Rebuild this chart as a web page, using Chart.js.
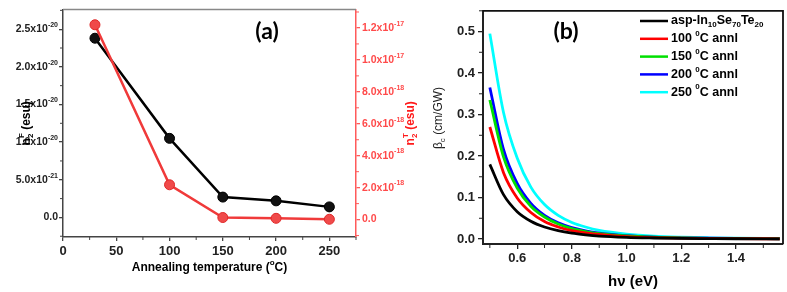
<!DOCTYPE html>
<html>
<head>
<meta charset="utf-8">
<script src="https://cdn.jsdelivr.net/npm/chart.js@4.4.1/dist/chart.umd.min.js"></script>
<style>
  html, body { margin: 0; padding: 0; background: #fff; }
  body { width: 787px; height: 292px; position: relative; overflow: hidden; }
  #wrap-a { position: absolute; left: 0; top: 0; }
  #wrap-b { position: absolute; left: 425px; top: 0; }
</style>
</head>
<body>
<div id="wrap-a"><canvas id="chart-a" width="425" height="292"></canvas></div>
<div id="wrap-b"><canvas id="chart-b" width="362" height="292"></canvas></div>
<script>
// panel (a) – n2 vs annealing temperature
const annealTemps = [30, 100, 150, 200, 250];
const n2F = [2.38e-20, 1.05e-20, 2.7e-21, 2.2e-21, 1.4e-21];
const n2T = [1.22e-17, 2.18e-18, 1.3e-19, 8e-20, 2e-20];

// panel (b) – beta_c vs photon energy
const photonEV  = [0.5, 0.55, 0.6, 0.65, 0.7, 0.75, 0.8, 0.85, 0.9, 1.0, 1.1, 1.2, 1.3, 1.4, 1.56];
const betaAsp   = [0.18, 0.107, 0.066, 0.043, 0.029, 0.020, 0.014, 0.010, 0.007, 0.004, 0.0025, 0.0015, 0.001, 0.0006, 0.0004];
const beta100   = [0.27, 0.16, 0.099, 0.064, 0.042, 0.029, 0.020, 0.015, 0.011, 0.006, 0.0035, 0.0022, 0.0014, 0.0009, 0.0005];
const beta150   = [0.335, 0.198, 0.123, 0.079, 0.053, 0.036, 0.025, 0.018, 0.013, 0.0074, 0.0044, 0.0027, 0.0017, 0.0012, 0.0007];
const beta200   = [0.365, 0.216, 0.134, 0.086, 0.057, 0.039, 0.0275, 0.0197, 0.0144, 0.0081, 0.0048, 0.003, 0.0019, 0.0013, 0.0007];
const beta250   = [0.495, 0.305, 0.195, 0.125, 0.083, 0.057, 0.040, 0.029, 0.021, 0.012, 0.007, 0.0045, 0.003, 0.002, 0.0012];
const sampleLabels = ["asp-In_{10}Se_{70}Te_{20}", "100 ^{0}C annl", "150 ^{0}C annl", "200 ^{0}C annl", "250 ^{0}C annl"];
const sampleColors = ["#000000", "#ff0000", "#00e000", "#0000ff", "#00ffff"];

const FONT = "'Liberation Sans', Arial, sans-serif";
Chart.defaults.font.family = FONT;

// text with _{sub} and ^{sup} pieces
function richParts(str) {
  const parts = [];
  const re = /([_^])\{([^}]*)\}/g;
  let last = 0, m;
  while ((m = re.exec(str))) {
    if (m.index > last) parts.push({ t: str.slice(last, m.index), k: "" });
    parts.push({ t: m[2], k: m[1] });
    last = re.lastIndex;
  }
  if (last < str.length) parts.push({ t: str.slice(last), k: "" });
  return parts;
}

function drawRich(ctx, str, x, y, o) {
  const parts = richParts(str);
  const weight = o.weight || "bold";
  const fam = o.family || FONT;
  const fontFor = k => `${weight} ${k ? Math.round(o.size * 0.66) : o.size}px ${fam}`;
  // measure, sup right after sub is stacked on top of it
  let w = 0, prev = null;
  parts.forEach(p => {
    ctx.font = fontFor(p.k);
    p.w = ctx.measureText(p.t).width;
    if (p.k === "^" && prev && prev.k === "_") {
      p.stack = true;
      w += Math.max(0, p.w - prev.w);
    } else {
      w += p.w;
    }
    prev = p;
  });
  ctx.save();
  ctx.translate(x, y);
  if (o.rotate) ctx.rotate(o.rotate);
  ctx.fillStyle = o.color || "#000";
  ctx.textBaseline = "middle";
  ctx.textAlign = "left";
  let cx = o.align === "left" ? 0 : o.align === "right" ? -w : -w / 2;
  let prevStart = cx;
  prev = null;
  parts.forEach(p => {
    ctx.font = fontFor(p.k);
    const dy = p.k === "_" ? o.size * 0.32 : p.k === "^" ? -o.size * 0.4 : 0;
    if (p.stack) {
      ctx.fillText(p.t, prevStart, dy);
      cx = prevStart + Math.max(p.w, prev.w);
    } else {
      prevStart = cx;
      ctx.fillText(p.t, cx, dy);
      cx += p.w;
    }
    prev = p;
  });
  ctx.restore();
}

// 2.5e-20 -> 2.5x10^{-20}
function sciLabel(v) {
  if (Math.abs(v) < 1e-30) return "0.0";
  const [mant, ex] = v.toExponential(1).split("e");
  return mant + "x10^{" + parseInt(ex, 10) + "}";
}

// minor tick marks drawn from the scale itself
const minorTicks = {
  id: "minorTicks",
  afterDraw(chart, args, opts) {
    const ctx = chart.ctx;
    Object.keys(chart.scales).forEach(id => {
      const cfg = opts[id];
      if (!cfg) return;
      const s = chart.scales[id];
      ctx.save();
      ctx.strokeStyle = cfg.color;
      ctx.lineWidth = cfg.width || 1;
      ctx.beginPath();
      const i0 = Math.ceil(s.min / cfg.step - 1e-6);
      for (let i = i0; i * cfg.step <= s.max * (1 + 1e-9); i++) {
        const v = i * cfg.step;
        const r = v / cfg.major;
        if (Math.abs(r - Math.round(r)) < 1e-6) continue;
        const p = s.getPixelForValue(v);
        if (s.position === "left") { ctx.moveTo(s.right, p); ctx.lineTo(s.right - cfg.len, p); }
        else if (s.position === "right") { ctx.moveTo(s.left, p); ctx.lineTo(s.left + cfg.len, p); }
        else { ctx.moveTo(p, s.top); ctx.lineTo(p, s.top + cfg.len); }
      }
      ctx.stroke();
      ctx.restore();
    });
  }
};

function axisOpts(color, width, tickLen) {
  return {
    grid: { drawOnChartArea: false, drawTicks: true, tickLength: tickLen, color: color, lineWidth: 1.3 },
    border: { display: true, color: color, width: width }
  };
}

// ---------- panel (a) ----------
const decorA = {
  id: "decorA",
  afterDraw(chart) {
    const ctx = chart.ctx, a = chart.chartArea;
    ctx.save();
    ctx.strokeStyle = "#888";
    ctx.lineWidth = 1.5;
    ctx.beginPath(); ctx.moveTo(a.left, a.top); ctx.lineTo(a.right, a.top); ctx.stroke();
    ctx.restore();
    // scientific tick labels with real superscripts
    const sy = chart.scales.y, sy1 = chart.scales.y1;
    sy.ticks.forEach(t => {
      drawRich(ctx, sciLabel(t.value), sy.right - 5, sy.getPixelForValue(t.value), { size: 10.5, align: "right", color: "#222" });
    });
    sy1.ticks.forEach(t => {
      drawRich(ctx, sciLabel(t.value), sy1.left + 6, sy1.getPixelForValue(t.value), { size: 10.5, align: "left", color: "#ff4a4a" });
    });
    const cy = (a.top + a.bottom) / 2;
    drawRich(ctx, "n_{2}^{F} (esu)", 27, cy, { size: 12, rotate: -Math.PI / 2 });
    drawRich(ctx, "n_{2}^{T} (esu)", 411, cy, { size: 12, rotate: -Math.PI / 2, color: "#ff1a1a" });
    drawRich(ctx, "Annealing temperature (^{o}C)", (a.left + a.right) / 2, 268, { size: 12 });
    drawRich(ctx, "(a)", 267, 32, { size: 23, family: "Lato, 'Open Sans', sans-serif" });
  }
};

new Chart(document.getElementById("chart-a"), {
  type: "line",
  data: {
    datasets: [
      {
        label: "n2F",
        data: annealTemps.map((t, i) => ({ x: t, y: n2F[i] })),
        yAxisID: "y",
        borderColor: "#000",
        backgroundColor: "#111",
        borderWidth: 2.5,
        pointRadius: 5,
        pointBorderWidth: 1,
        pointBorderColor: "#000",
        order: 1
      },
      {
        label: "n2T",
        data: annealTemps.map((t, i) => ({ x: t, y: n2T[i] })),
        yAxisID: "y1",
        borderColor: "#f03a3a",
        backgroundColor: "#f04a4a",
        borderWidth: 2.5,
        pointRadius: 5,
        pointBorderWidth: 1,
        pointBorderColor: "#e02828",
        order: 0
      }
    ]
  },
  options: {
    responsive: false,
    animation: false,
    layout: { padding: { top: 2, left: 0, right: 0, bottom: 0 } },
    plugins: {
      legend: { display: false },
      tooltip: { enabled: false },
      minorTicks: {
        x: { step: 25, major: 50, len: 3, color: "#444" },
        y: { step: 2.5e-21, major: 5e-21, len: 3, color: "#444" },
        y1: { step: 1e-18, major: 2e-18, len: 3, color: "#ff5a5a" }
      }
    },
    scales: {
      x: {
        type: "linear", position: "bottom", min: 0, max: 275,
        ...axisOpts("#444", 1.5, 4),
        ticks: { stepSize: 50, includeBounds: false, color: "#222", padding: 3, font: { size: 13, weight: "bold" }, maxRotation: 0 },
        afterFit: s => { s.height = 55; }
      },
      y: {
        type: "linear", position: "left", min: -2.6e-21, max: 2.76e-20,
        ...axisOpts("#444", 1.5, 4),
        ticks: { stepSize: 5e-21, includeBounds: false, color: "transparent", font: { size: 11 } },
        afterFit: s => { s.width = 63; }
      },
      y1: {
        type: "linear", position: "right", min: -1.09e-18, max: 1.315e-17,
        ...axisOpts("#ff5a5a", 1.5, 4),
        ticks: { stepSize: 2e-18, includeBounds: false, color: "transparent", font: { size: 11 } },
        afterFit: s => { s.width = 69; }
      }
    }
  },
  plugins: [minorTicks, decorA]
});

// ---------- panel (b) ----------
const decorB = {
  id: "decorB",
  afterDraw(chart) {
    const ctx = chart.ctx, a = chart.chartArea;
    ctx.save();
    ctx.strokeStyle = "#111";
    ctx.lineWidth = 1.8;
    ctx.beginPath();
    ctx.moveTo(a.left, a.top); ctx.lineTo(a.right, a.top); ctx.lineTo(a.right, a.bottom);
    ctx.stroke();
    // legend
    chart.data.datasets.forEach((ds, i) => {
      const y = 21 + i * 17.8;
      ctx.strokeStyle = ds.borderColor;
      ctx.lineWidth = 2.5;
      ctx.beginPath(); ctx.moveTo(215, y); ctx.lineTo(243, y); ctx.stroke();
      drawRich(ctx, ds.label, 246, y, { size: 12.5, align: "left" });
    });
    ctx.restore();
    drawRich(ctx, "\u03B2_{c} (cm/GW)", 14, 118, { size: 12, weight: "normal", rotate: -Math.PI / 2, color: "#222" });
    drawRich(ctx, "h\u03BD (eV)", (a.left + a.right) / 2, 282, { size: 15 });
    drawRich(ctx, "(b)", 141, 32, { size: 23, family: "Lato, 'Open Sans', sans-serif" });
  }
};

const betaSeries = [betaAsp, beta100, beta150, beta200, beta250];

new Chart(document.getElementById("chart-b"), {
  type: "line",
  data: {
    datasets: betaSeries.map((vals, k) => ({
      label: sampleLabels[k],
      data: photonEV.map((e, i) => ({ x: e, y: vals[i] })),
      borderColor: sampleColors[k],
      backgroundColor: sampleColors[k],
      borderWidth: 2.8,
      pointRadius: 0,
      cubicInterpolationMode: "monotone"
    }))
  },
  options: {
    responsive: false,
    animation: false,
    layout: { padding: { top: 3, left: 0, right: 4, bottom: 0 } },
    plugins: {
      legend: { display: false },
      tooltip: { enabled: false },
      minorTicks: {
        x: { step: 0.1, major: 0.2, len: 4, color: "#222" },
        y: { step: 0.05, major: 0.1, len: 4, color: "#222" }
      }
    },
    scales: {
      x: {
        type: "linear", position: "bottom", min: 0.475, max: 1.572,
        ...axisOpts("#222", 2, 5),
        ticks: { stepSize: 0.2, includeBounds: false, color: "#222", padding: 2, font: { size: 13, weight: "bold" }, maxRotation: 0, callback: v => v.toFixed(1) },
        afterFit: s => { s.height = 48; }
      },
      y: {
        type: "linear", position: "left", min: -0.012, max: 0.55,
        ...axisOpts("#222", 2, 5),
        ticks: { stepSize: 0.1, includeBounds: false, color: "#222", padding: 3, font: { size: 13, weight: "bold" }, callback: v => v.toFixed(1) },
        afterFit: s => { s.width = 58; }
      }
    }
  },
  plugins: [minorTicks, decorB]
});
</script>
</body>
</html>
